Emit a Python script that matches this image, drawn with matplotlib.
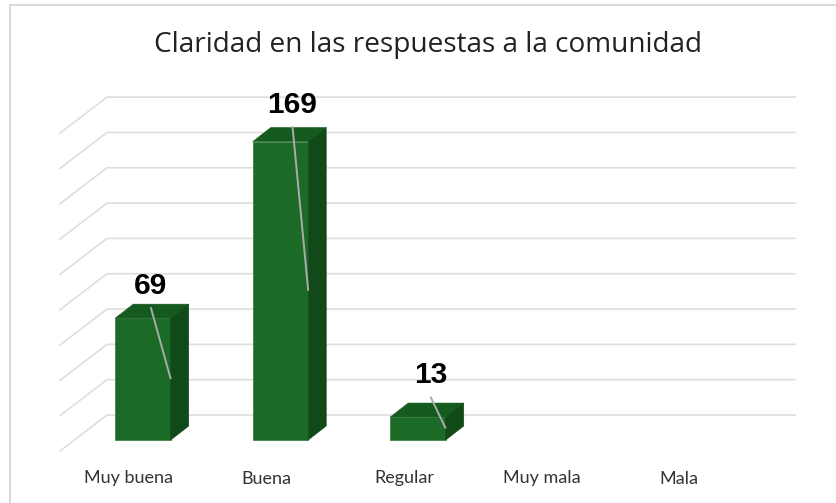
import matplotlib
matplotlib.use("Agg")
import matplotlib.pyplot as plt
from matplotlib.patches import Polygon

categories = ["Muy buena", "Buena", "Regular", "Muy mala", "Mala"]
values = [69, 169, 13, 0, 0]
grid_values = list(range(0, 181, 20))
title = "Claridad en las respuestas a la comunidad"

# layout (pixels of the 836x503 figure)
W, H = 836, 503
X0_PX, X_STEP_PX = 143.0, 137.5      # first category centre, category spacing
Y0_PX, Y_PX_PER_UNIT = 440.0, 1.766  # baseline, pixels per value unit
BAR_W_PX, DX_PX, DY_PX = 55.5, 18.0, 14.0
GRID_BACK_LEFT, GRID_BACK_RIGHT, GRID_FRONT_LEFT = 107, 795, 60
FLOOR_BACK_PX, FLOOR_FRONT_PX = 415, 451
LABEL_DX_PX = [7.7, 12.0, 12.5]      # leader top relative to bar centre
LABEL_UP_PX = [11.0, 15.3, 20.3]     # leader top above the front top edge
LABEL_GAP_PX = 21.5

fig = plt.figure(figsize=(W / 100, H / 100), dpi=100, facecolor="white")
ax = fig.add_axes([0, 0, 1, 1])
ax.set_xlim(-X0_PX / X_STEP_PX, (W - X0_PX) / X_STEP_PX)
ax.set_ylim((Y0_PX - H) / Y_PX_PER_UNIT, Y0_PX / Y_PX_PER_UNIT)
ax.axis("off")

ux = 1 / X_STEP_PX   # data units per px, horizontally
uy = 1 / Y_PX_PER_UNIT

def xp(px):
    return (px - X0_PX) * ux

def yp(px):
    return (Y0_PX - px) * uy

# chart-area frame
ax.plot([xp(10), xp(10)], [yp(503), yp(5.5)], color="#D9D9D9", lw=1.4, zorder=1)
ax.plot([xp(10), xp(836)], [yp(5.5), yp(5.5)], color="#D9D9D9", lw=1.4, zorder=1)

# gridlines on the wall and the side wall
for v in grid_values:
    back = yp(FLOOR_BACK_PX) + v
    front = yp(FLOOR_FRONT_PX) + v
    ax.plot([xp(GRID_FRONT_LEFT), xp(GRID_BACK_LEFT), xp(GRID_BACK_RIGHT)],
            [front, back, back], color="#DEDEDE", lw=1.2,
            solid_joinstyle="miter", zorder=2)

dx, dy = DX_PX * ux, DY_PX * uy
hw = BAR_W_PX * ux / 2
for i, v in enumerate(values):
    if v <= 0:
        continue
    l, r = i - hw, i + hw
    ax.add_patch(Polygon([(l, 0), (r, 0), (r, v), (l, v)], closed=True,
                         fc="#1B6B27", ec="#1B6B27", lw=0.4, zorder=3))
    ax.add_patch(Polygon([(l, v), (r, v), (r + dx, v + dy), (l + dx, v + dy)],
                         closed=True, fc="#155A1E", ec="#155A1E", lw=0.4, zorder=3))
    ax.add_patch(Polygon([(r, 0), (r + dx, dy), (r + dx, v + dy), (r, v)],
                         closed=True, fc="#114A18", ec="#114A18", lw=0.4, zorder=3))
    lx = i + LABEL_DX_PX[i] * ux
    ly = v + LABEL_UP_PX[i] * uy
    ax.plot([lx, r], [ly, v / 2], color="#ABABAB", lw=1.4, zorder=4,
            solid_capstyle="butt")
    ax.text(lx, ly + LABEL_GAP_PX * uy, str(v), ha="center", va="center",
            fontsize=21.5, fontweight="bold", family="Liberation Sans",
            color="black", zorder=5)

# category labels
for i, c in enumerate(categories):
    ax.text(i - 14 * ux, yp(478.5), c, ha="center", va="center",
            fontsize=13, family="Lato", color="#333333")

ax.text(xp(428.5), yp(45), title, ha="center", va="center",
        fontsize=20.2, family="Open Sans", color="#222222")

fig.savefig("out.png", dpi=100, facecolor="white")
